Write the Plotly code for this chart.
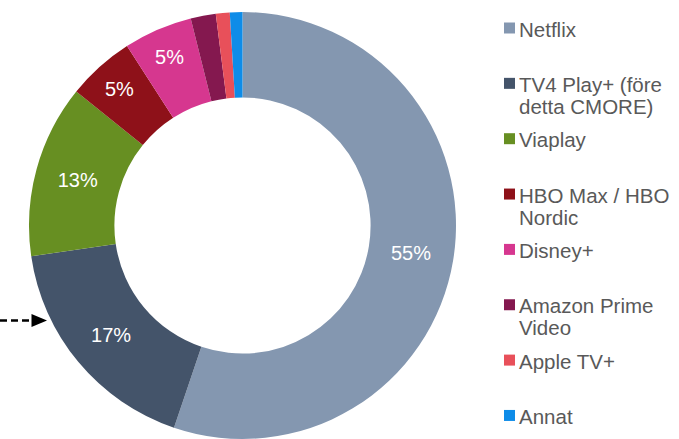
import plotly.graph_objects as go

W, H = 679, 439
OFF = 0

# Data
labels = ["Netflix", "TV4 Play+ (före\ndetta CMORE)", "Viaplay", "HBO Max / HBO\nNordic",
          "Disney+", "Amazon Prime\nVideo", "Apple TV+", "Annat"]
values = [55.2, 17.5, 13.1, 5.1, 5.2, 1.9, 1.05, 0.95]
shown_text = ["55%", "17%", "13%", "5%", "5%", "", "", ""]
colors = ["#8497B0", "#44546A", "#678F22", "#8E1119", "#D6378F", "#84184F", "#E8505A", "#0E8CE8"]

cx, cy, r = 242.5, 225.5, 213.5

def px(x):
    return (x - OFF) / W

def py(y):
    return 1 - (y - OFF) / H

fig = go.Figure(go.Pie(
    labels=[l.replace("\n", " ") for l in labels],
    values=values,
    text=shown_text,
    textinfo="text",
    hoverinfo="label+percent",
    sort=False,
    direction="clockwise",
    rotation=0,
    hole=0.6,
    marker=dict(colors=colors, line=dict(width=0)),
    textposition="inside",
    insidetextorientation="horizontal",
    insidetextfont=dict(color="white", size=20, family="Liberation Sans, Arial, sans-serif"),
    domain=dict(x=[px(cx - r), px(cx + r)], y=[py(cy + r), py(cy - r)]),
    showlegend=False,
))

shapes = []
annotations = []
item_y0 = 28.0
item_step = 55.35
line_step = 22.0
for i, (lab, col) in enumerate(zip(labels, colors)):
    yc = item_y0 + i * item_step
    shapes.append(dict(type="rect", xref="paper", yref="paper",
                       x0=px(504), x1=px(515), y0=py(yc + 5.5), y1=py(yc - 5.5),
                       fillcolor=col, line=dict(width=0)))
    for j, line in enumerate(lab.split("\n")):
        annotations.append(dict(xref="paper", yref="paper", x=px(517), y=py(yc + j * line_step + 1),
                                text=line, showarrow=False, xanchor="left", yanchor="middle",
                                font=dict(size=20.5, color="#595959",
                                          family="Liberation Sans, Arial, sans-serif")))

# dashed pointer arrow on the left
ay = 320.5
shapes.append(dict(type="line", xref="paper", yref="paper", x0=px(0), x1=px(33), y0=py(ay), y1=py(ay),
                   line=dict(color="black", width=2.5, dash="7px,4px")))
shapes.append(dict(type="path", xref="paper", yref="paper",
                   path=f"M {px(31.5)} {py(ay - 6.5)} L {px(47)} {py(ay)} L {px(31.5)} {py(ay + 6.5)} Z",
                   fillcolor="black", line=dict(width=0)))

fig.update_layout(
    width=W, height=H,
    margin=dict(l=0, r=0, t=0, b=0),
    paper_bgcolor="white",
    plot_bgcolor="white",
    shapes=shapes,
    annotations=annotations,
    font=dict(family="Liberation Sans, Arial, sans-serif"),
)

fig.write_html("out.html", config={"displayModeBar": False},
               post_script="document.body.style.margin='0';")
